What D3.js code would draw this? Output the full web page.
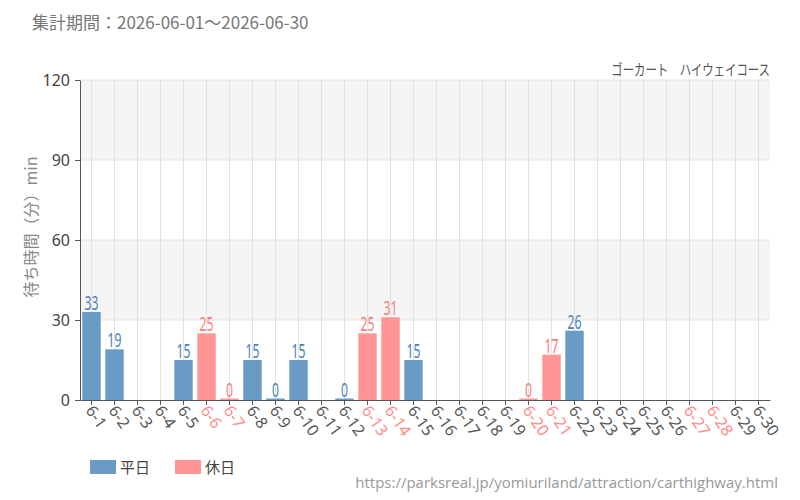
<!DOCTYPE html>
<html><head><meta charset="utf-8">
<script src="https://cdn.jsdelivr.net/npm/d3@7/dist/d3.min.js"></script>
<style>
body{margin:0;background:#fff;}
svg{font-family:"Noto Sans CJK JP","Noto Sans",sans-serif;}
</style></head><body>
<svg id="c" width="800" height="500"></svg>
<script>
const categories = ["6-1","6-2","6-3","6-4","6-5","6-6","6-7","6-8","6-9","6-10","6-11","6-12","6-13","6-14","6-15","6-16","6-17","6-18","6-19","6-20","6-21","6-22","6-23","6-24","6-25","6-26","6-27","6-28","6-29","6-30"];
const values = [33,19,null,null,15,25,0,15,0,15,null,0,25,31,15,null,null,null,null,0,17,26,null,null,null,null,null,null,null,null];
const holidays = [false,false,false,false,false,true,true,false,false,false,false,false,true,true,false,false,false,false,false,true,true,false,false,false,false,false,true,true,false,false];
const yTicks = [0,30,60,90,120];
const title = "集計期間：2026-06-01～2026-06-30";
const subtitle = "ゴーカート　ハイウェイコース";
const yTitle = "待ち時間（分）min";
const legendLabels = ["平日","休日"];
const source = "https://parksreal.jp/yomiuriland/attraction/carthighway.html";

const W=800,H=500, L=80, R=770, T=80, B=400;
const blue="#6a9bc4", pink="#ff9595", blueText="#4a82b8", pinkText="#f77e7e";
const svg=d3.select("#c");
const x=d3.scaleBand().domain(categories).range([L,R]).paddingInner(0.2).paddingOuter(0.1);
const y=d3.scaleLinear().domain([0,120]).range([B,T]);
const cx=c=>x(c)+x.bandwidth()/2;

// alternating bands
for(let i=0;i<yTicks.length-1;i++){
  if(i%2===1) svg.append("rect").attr("x",L).attr("width",R-L).attr("y",y(yTicks[i+1])).attr("height",y(yTicks[i])-y(yTicks[i+1])).attr("fill","#f5f5f5");
}
// grid
svg.append("g").selectAll("line").data(yTicks.slice(1)).join("line")
 .attr("x1",L).attr("x2",R).attr("y1",d=>y(d)).attr("y2",d=>y(d)).attr("stroke","#e4e4e4");
svg.append("g").selectAll("line").data(categories).join("line")
 .attr("x1",d=>cx(d)).attr("x2",d=>cx(d)).attr("y1",T).attr("y2",B).attr("stroke","#e2e2e2");

// bars
const data=categories.map((c,i)=>({c,v:values[i],h:holidays[i]})).filter(d=>d.v!==null);
svg.append("g").selectAll("rect").data(data).join("rect")
 .attr("x",d=>x(d.c)).attr("width",x.bandwidth())
 .attr("y",d=>Math.min(y(d.v),B-1.5)).attr("height",d=>Math.max(B-y(d.v),1.5))
 .attr("fill",d=>d.h?pink:blue);
svg.append("g").selectAll("text").data(data).join("text")
 .attr("transform",d=>`translate(${cx(d.c)},${Math.min(y(d.v),B-1.5)-2}) scale(0.64,1)`)
 .attr("text-anchor","middle").attr("font-family","'Noto Sans',sans-serif")
 .attr("font-size",19)
 .attr("fill",d=>d.h?pinkText:blueText).text(d=>d.v);

// axes
const xa=svg.append("g").attr("transform",`translate(0,${B})`).call(d3.axisBottom(x).tickSize(5).tickSizeOuter(0));
xa.select(".domain").attr("stroke","#555");
xa.selectAll(".tick line").attr("stroke","#555");
xa.selectAll(".tick text").attr("font-size",16).attr("font-family","'Noto Sans',sans-serif")
 .attr("fill",(d,i)=>holidays[i]?"#ff8a8a":"#555")
 .attr("text-anchor","start").attr("dy",0).attr("dx",0)
 .attr("transform","translate(0,6) rotate(55)");
const ya=svg.append("g").attr("transform",`translate(${L},0)`).call(d3.axisLeft(y).tickValues(yTicks).tickSize(5).tickSizeOuter(0));
ya.select(".domain").attr("stroke","#555");
ya.selectAll(".tick line").attr("stroke","#555");
ya.selectAll(".tick text").attr("font-size",16).attr("font-family","'Noto Sans',sans-serif").attr("fill","#444").attr("dx",-2);

// texts
svg.append("text").attr("x",32).attr("y",29).attr("font-size",17).attr("fill","#777").text(title);
svg.append("text").attr("transform","translate(770,75) scale(0.76,1)").attr("text-anchor","end").attr("font-size",15).attr("fill","#555").text(subtitle);
svg.append("text").attr("transform","translate(37,227) rotate(-90)").attr("text-anchor","middle").attr("font-size",16).attr("fill","#888").text(yTitle);

// legend
const lg=svg.append("g");
[[blue,90],[pink,175]].forEach(([col,lx],i)=>{
  lg.append("rect").attr("x",lx).attr("y",460).attr("width",26).attr("height",14).attr("fill",col);
  lg.append("text").attr("x",lx+30).attr("y",473).attr("font-size",15).attr("fill","#444").text(legendLabels[i]);
});
svg.append("text").attr("x",778).attr("y",488).attr("text-anchor","end").attr("font-size",15).attr("fill","#999").attr("font-family","'Open Sans','Noto Sans',sans-serif").text(source);
</script></body></html>
